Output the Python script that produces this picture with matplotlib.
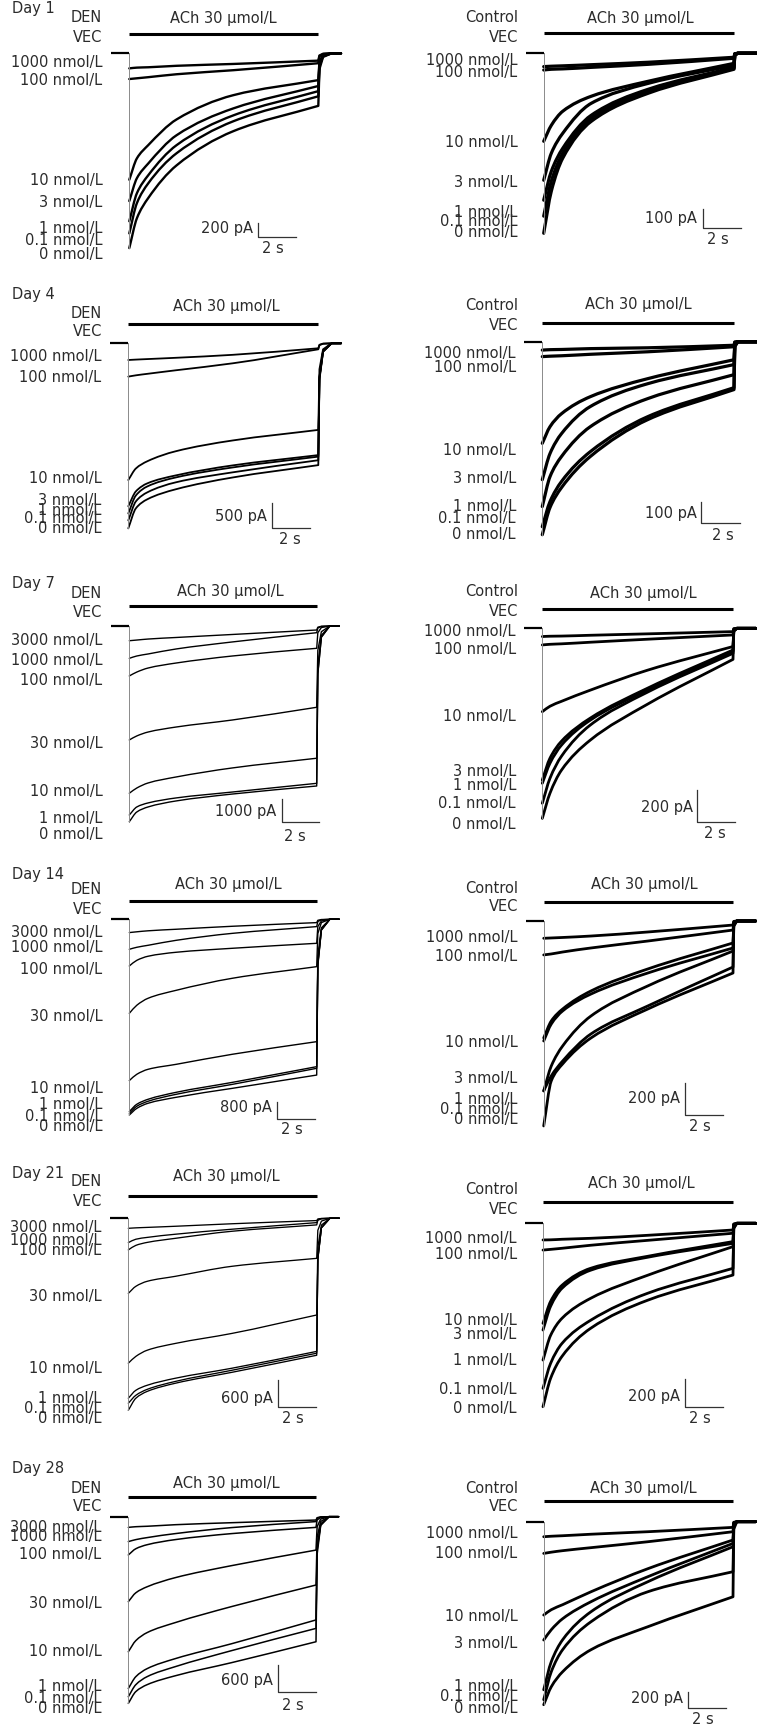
import matplotlib.pyplot as plt
import numpy as np
from matplotlib.path import Path
from matplotlib.patches import PathPatch

W, H = 757, 1727

# ---------------------------------------------------------------- data ---- #
# ACh is applied for 10 s; trace amplitudes (inward current, pA) were read off
# the recordings at these times after ACh onset
t_read = [0, 0.4, 1, 2.5, 5.5, 10]
ach_duration = 10

days = ["Day 1", "Day 4", "Day 7", "Day 14", "Day 21", "Day 28"]

conc_7 = ["1000", "100", "10", "3", "1", "0.1", "0"]
conc_7b = ["3000", "1000", "100", "30", "10", "1", "0"]
conc_8 = ["3000", "1000", "100", "30", "10", "1", "0.1", "0"]

scale_pA_den = [200, 500, 1000, 800, 600, 600]
scale_pA_ctl = [100, 100, 200, 200, 200, 200]

day1_den = [[205, 195, 190, 170, 145, 100],
            [350, 340, 325, 285, 230, 135],
            [1720, 1430, 1250, 900, 570, 365],
            [2010, 1700, 1500, 1115, 750, 445],
            [2285, 1905, 1660, 1250, 845, 515],
            [2450, 2040, 1770, 1360, 925, 585],
            [2650, 2245, 1970, 1525, 1060, 715]]
day1_ctl = [[70, 68, 66, 60, 47, 21],
            [88, 84, 82, 74, 58, 26],
            [463, 379, 305, 226, 147, 53],
            [668, 526, 421, 263, 158, 63],
            [773, 621, 500, 326, 189, 74],
            [857, 673, 526, 342, 200, 79],
            [947, 726, 552, 358, 210, 84]]

day4_den = [[325, 317, 307, 282, 224, 97],
            [648, 623, 594, 525, 389, 117],
            [2660, 2435, 2295, 2100, 1890, 1685],
            [3170, 2880, 2725, 2570, 2375, 2175],
            [3310, 2960, 2785, 2610, 2415, 2205],
            [3445, 3075, 2900, 2705, 2510, 2275],
            [3600, 3210, 3035, 2840, 2610, 2370]]
day4_ctl = [[40, 38, 37, 33, 29, 17],
            [71, 69, 67, 60, 48, 24],
            [484, 405, 343, 262, 176, 86],
            [657, 533, 438, 309, 200, 109],
            [785, 643, 547, 405, 271, 157],
            [881, 762, 666, 524, 357, 219],
            [919, 790, 695, 547, 371, 228]]

day7_den = [[660, 630, 585, 515, 380, 180],
            [1450, 1345, 1255, 1030, 715, 300],
            [2240, 2065, 1885, 1660, 1345, 1000],
            [5110, 4930, 4755, 4530, 4215, 3645],
            [7500, 7265, 7040, 6770, 6365, 5930],
            [8475, 8115, 7935, 7710, 7445, 7055],
            [8775, 8340, 8115, 7845, 7535, 7175]]
day7_ctl = [[52, 50, 49, 44, 35, 21],
            [105, 101, 98, 88, 69, 42],
            [526, 492, 461, 391, 265, 115],
            [957, 820, 713, 568, 379, 137],
            [978, 852, 738, 581, 391, 145],
            [1104, 947, 808, 612, 404, 158],
            [1199, 1041, 896, 707, 480, 196]]

day14_den = [[600, 565, 520, 450, 315, 150],
             [1355, 1265, 1175, 950, 635, 330],
             [2110, 1855, 1670, 1490, 1310, 1085],
             [4250, 3885, 3570, 3210, 2665, 2140],
             [7290, 7005, 6780, 6555, 6100, 5530],
             [8690, 8360, 8135, 7820, 7370, 6660],
             [8770, 8450, 8225, 7910, 7460, 6735],
             [8845, 8545, 8315, 8045, 7640, 7040]]
day14_ctl = [[107, 105, 102, 93, 68, 25],
             [210, 204, 192, 167, 124, 56],
             [724, 619, 545, 433, 297, 136],
             [743, 638, 557, 452, 322, 167],
             [1052, 898, 774, 588, 402, 186],
             [1052, 959, 867, 699, 526, 285],
             [1269, 990, 885, 724, 545, 322]]

day21_den = [[220, 210, 200, 175, 120, 50],
             [535, 460, 420, 350, 240, 95],
             [695, 595, 530, 440, 285, 145],
             [1650, 1495, 1385, 1275, 1055, 880],
             [3185, 3035, 2900, 2750, 2530, 2125],
             [3955, 3780, 3670, 3515, 3295, 2925],
             [4065, 3890, 3760, 3585, 3340, 2965],
             [4220, 3955, 3805, 3625, 3385, 3010]]
day21_ctl = [[122, 121, 117, 110, 88, 49],
             [196, 191, 183, 161, 125, 73],
             [733, 572, 454, 330, 242, 134],
             [782, 608, 476, 344, 249, 147],
             [1002, 821, 696, 550, 381, 171],
             [1209, 1026, 880, 711, 513, 330],
             [1344, 1136, 975, 770, 564, 379]]

day28_den = [[240, 225, 215, 180, 135, 75],
             [560, 515, 470, 380, 245, 110],
             [860, 720, 630, 515, 380, 240],
             [1910, 1710, 1575, 1370, 1100, 750],
             [3035, 2785, 2605, 2380, 2020, 1535],
             [3860, 3595, 3415, 3190, 2855, 2320],
             [4045, 3775, 3595, 3370, 3010, 2510],
             [4195, 3930, 3775, 3575, 3280, 2810]]
day28_ctl = [[180, 174, 168, 150, 120, 68],
             [380, 365, 347, 311, 240, 120],
             [1118, 1054, 994, 839, 563, 219],
             [1417, 1294, 1162, 958, 659, 260],
             [2013, 1677, 1414, 1078, 719, 300],
             [2132, 1797, 1533, 1198, 839, 599],
             [2192, 1977, 1797, 1533, 1258, 899]]

# -------------------------------------------------------------- layout ---- #
# pixel geometry of every panel: ACh onset x, baseline y, end of ACh x,
# ACh bar y, scale-bar corner, scale-bar height in px
den_layout = [
    dict(onset=129.3, base=53.3, end=318.3, bar=34.3, sb=(258.3, 237.3), sb_px=14.7,
         head=9, den_y=(18, 38), ach=(223, 18), lab_y=[62, 80, 180, 203, 228, 240, 255],
         pa_txt=(253, 228), s_txt=(273, 248), lw=1.7),
    dict(onset=128.3, base=343.3, end=318.3, bar=324, sb=(271.7, 528.3), sb_px=25.7,
         head=295, den_y=(313.3, 331.7), ach=(226.7, 306.7),
         lab_y=[356.7, 377.3, 478.3, 500, 510, 518.3, 528.3],
         pa_txt=(266.7, 516.7), s_txt=(290, 540), lw=1.3),
    dict(onset=129.3, base=626, end=316.7, bar=605.7, sb=(281.7, 821.7), sb_px=22.3,
         head=583.3, den_y=(594, 612.7), ach=(230, 591.7),
         lab_y=[640.7, 660, 680, 743.3, 791.7, 818.3, 835],
         pa_txt=(276, 811.7), s_txt=(295, 836.7), lw=1.0),
    dict(onset=129.3, base=919.3, end=316.7, bar=901, sb=(277.3, 1119.3), sb_px=17.7,
         head=875, den_y=(890, 909.3), ach=(228.3, 885),
         lab_y=[932.7, 947.3, 970, 1016.7, 1088.3, 1105, 1116.7, 1126.7],
         pa_txt=(271.7, 1107.3), s_txt=(291.7, 1130), lw=1.0),
    dict(onset=128.3, base=1218.3, end=316.7, bar=1196, sb=(278.3, 1407.3), sb_px=27.3,
         head=1173.3, den_y=(1181.7, 1201.7), ach=(226.7, 1176.7),
         lab_y=[1227.3, 1240.7, 1250, 1296.7, 1368.3, 1398.3, 1408.3, 1418.3],
         pa_txt=(273.3, 1398.3), s_txt=(293.3, 1418.3), lw=0.95),
    dict(onset=128.3, base=1516.7, end=316, bar=1496.7, sb=(278.3, 1691.7), sb_px=26.7,
         head=1468.3, den_y=(1488.3, 1506.7), ach=(226.7, 1483.3),
         lab_y=[1527.3, 1536.7, 1555, 1603.3, 1651.7, 1686.7, 1698.3, 1708.3],
         pa_txt=(273.3, 1680.7), s_txt=(293.3, 1705), lw=1.1),
]
ctl_layout = [
    dict(onset=543.7, base=53.3, end=734, bar=33.3, sb=(703, 228.3), sb_px=19,
         den_y=(18, 38), ach=(640, 18), lab_y=[60, 72, 143, 182, 212, 222, 233],
         pa_txt=(697, 218.3), s_txt=(718, 240), lw=2.3),
    dict(onset=542.3, base=341.7, end=734, bar=322.7, sb=(701.3, 522.7), sb_px=21,
         den_y=(305, 325), ach=(638, 305),
         lab_y=[353.3, 367.3, 450, 478.3, 506.7, 518.3, 535],
         pa_txt=(697, 513.3), s_txt=(723, 535), lw=2.3),
    dict(onset=542.3, base=628.3, end=733, bar=609, sb=(697.3, 821.7), sb_px=31.7,
         den_y=(591.7, 611.7), ach=(643, 593.3),
         lab_y=[631.7, 649.3, 716.7, 771.7, 785, 803.3, 825],
         pa_txt=(693, 807.3), s_txt=(714.7, 833.3), lw=2.0),
    dict(onset=543.7, base=921, end=733, bar=901.7, sb=(684.7, 1115), sb_px=32.3,
         den_y=(888.3, 906.7), ach=(644.7, 885),
         lab_y=[937.3, 956.7, 1042.7, 1078.3, 1099.3, 1109.3, 1119.3],
         pa_txt=(679.7, 1098.3), s_txt=(699.7, 1126.7), lw=2.0),
    dict(onset=543, base=1223.3, end=733, bar=1202.3, sb=(684.7, 1406.7), sb_px=27.3,
         den_y=(1190, 1210), ach=(641.3, 1183.3),
         lab_y=[1238.3, 1255, 1320, 1335, 1360, 1389.3, 1408.3],
         pa_txt=(679.7, 1396.7), s_txt=(699.7, 1418.3), lw=2.0),
    dict(onset=543.7, base=1521.7, end=733, bar=1500.7, sb=(688, 1708.3), sb_px=16.7,
         den_y=(1488.3, 1506.7), ach=(643, 1488.3),
         lab_y=[1533.3, 1553.3, 1616, 1643.3, 1686.7, 1696.7, 1708.3],
         pa_txt=(683, 1698.3), s_txt=(703, 1720), lw=2.0),
]

den_traces = [day1_den, day4_den, day7_den, day14_den, day21_den, day28_den]
ctl_traces = [day1_ctl, day4_ctl, day7_ctl, day14_ctl, day21_ctl, day28_ctl]
den_conc = [conc_7, conc_7, conc_7b, conc_8, conc_8, conc_8]
ctl_conc = [conc_7] * 6

TXT = "#2b2b2b"
FS = 10.5
plt.rcParams["font.family"] = ["DejaVu Sans"]

fig = plt.figure(figsize=(W / 100, H / 100), dpi=100)
fig.patch.set_facecolor("white")


def ftext(x, y, s, ha="right"):
    fig.text(x / W, 1 - y / H, s, ha=ha, va="center", fontsize=FS, color=TXT)


def smooth_path(ts, ys, tail_t, tail_y):
    """Bezier curve through the read points (monotone tangents), then straight tail."""
    t = np.asarray(ts, float)
    y = np.asarray(ys, float)
    h = np.diff(t)
    d = np.diff(y) / h
    m = np.zeros_like(y)
    m[0], m[-1] = d[0], d[-1]
    for k in range(1, len(y) - 1):
        if d[k - 1] * d[k] > 0:
            w1, w2 = 2 * h[k] + h[k - 1], h[k] + 2 * h[k - 1]
            m[k] = (w1 + w2) / (w1 / d[k - 1] + w2 / d[k])
    verts = [(t[0], y[0])]
    codes = [Path.MOVETO]
    for k in range(len(h)):
        verts += [(t[k] + h[k] / 3, y[k] + m[k] * h[k] / 3),
                  (t[k + 1] - h[k] / 3, y[k + 1] - m[k + 1] * h[k] / 3),
                  (t[k + 1], y[k + 1])]
        codes += [Path.CURVE4] * 3
    for tt, yy in zip(tail_t, tail_y):
        verts.append((tt, yy))
        codes.append(Path.LINETO)
    return Path(verts, codes)


def draw_panel(lay, amps, scale_pA, conc, slow_recovery):
    sx = (lay["end"] - lay["onset"]) / ach_duration   # px per s
    sy = lay["sb_px"] / scale_pA                       # px per pA
    x0, x1 = lay["onset"] - 30, lay["onset"] + 240
    y0, y1 = lay["bar"] - 12, lay["base"] + 230
    ax = fig.add_axes([x0 / W, 1 - y1 / H, (x1 - x0) / W, (y1 - y0) / H])
    ax.set_xlim((x0 - lay["onset"]) / sx, (x1 - lay["onset"]) / sx)
    ax.set_ylim((lay["base"] - y1) / sy, (lay["base"] - y0) / sy)
    ax.axis("off")
    ax.patch.set_visible(False)

    if slow_recovery:
        rec_t, rec_f = [10.06, 10.25, 10.7], [0.3, 0.07, 0.0]
    else:
        rec_t, rec_f = [10.04, 10.2], [0.1, 0.0]

    lw = lay["lw"]
    peak = max(a[0] for a in amps)
    ax.plot([-0.95, 0], [0, 0], color="black", lw=1.6, solid_capstyle="butt")
    ax.plot([0, 0], [0, -peak], color="#8a8a8a", lw=0.7)
    for a in amps:
        tail_t = rec_t + [11.2]
        tail_y = [-a[-1] * f for f in rec_f] + [0]
        path = smooth_path(t_read, [-v for v in a], tail_t, tail_y)
        ax.add_patch(PathPatch(path, fill=False, edgecolor="black", lw=lw,
                               joinstyle="round", capstyle="round"))

    # ACh application bar
    bar_y = (lay["base"] - lay["bar"]) / sy
    ax.plot([0, ach_duration], [bar_y, bar_y], color="black", lw=2.2,
            solid_capstyle="butt")

    # scale bar
    tc = (lay["sb"][0] - lay["onset"]) / sx
    ic = (lay["base"] - lay["sb"][1]) / sy
    ax.plot([tc, tc, tc + 2], [ic + scale_pA, ic, ic], color="#333333", lw=0.9)

    # text
    lab_x = lay["onset"] - 27 if slow_recovery else lay["onset"] - 26.3
    for c, y in zip(conc, lay["lab_y"]):
        ftext(lab_x, y, f"{c} nmol/L")
    ftext(lay["ach"][0], lay["ach"][1], "ACh 30 µmol/L", ha="center")
    ftext(lay["pa_txt"][0], lay["pa_txt"][1], f"{scale_pA} pA")
    ftext(lay["s_txt"][0], lay["s_txt"][1], "2 s", ha="center")


for i in range(6):
    d = den_layout[i]
    draw_panel(d, den_traces[i], scale_pA_den[i], den_conc[i], True)
    ftext(12, d["head"], days[i], ha="left")
    ftext(102, d["den_y"][0], "DEN")
    ftext(102, d["den_y"][1], "VEC")

    c = ctl_layout[i]
    draw_panel(c, ctl_traces[i], scale_pA_ctl[i], ctl_conc[i], False)
    ftext(518, c["den_y"][0], "Control")
    ftext(518, c["den_y"][1], "VEC")

fig.savefig("out.png", dpi=100, facecolor="white")
